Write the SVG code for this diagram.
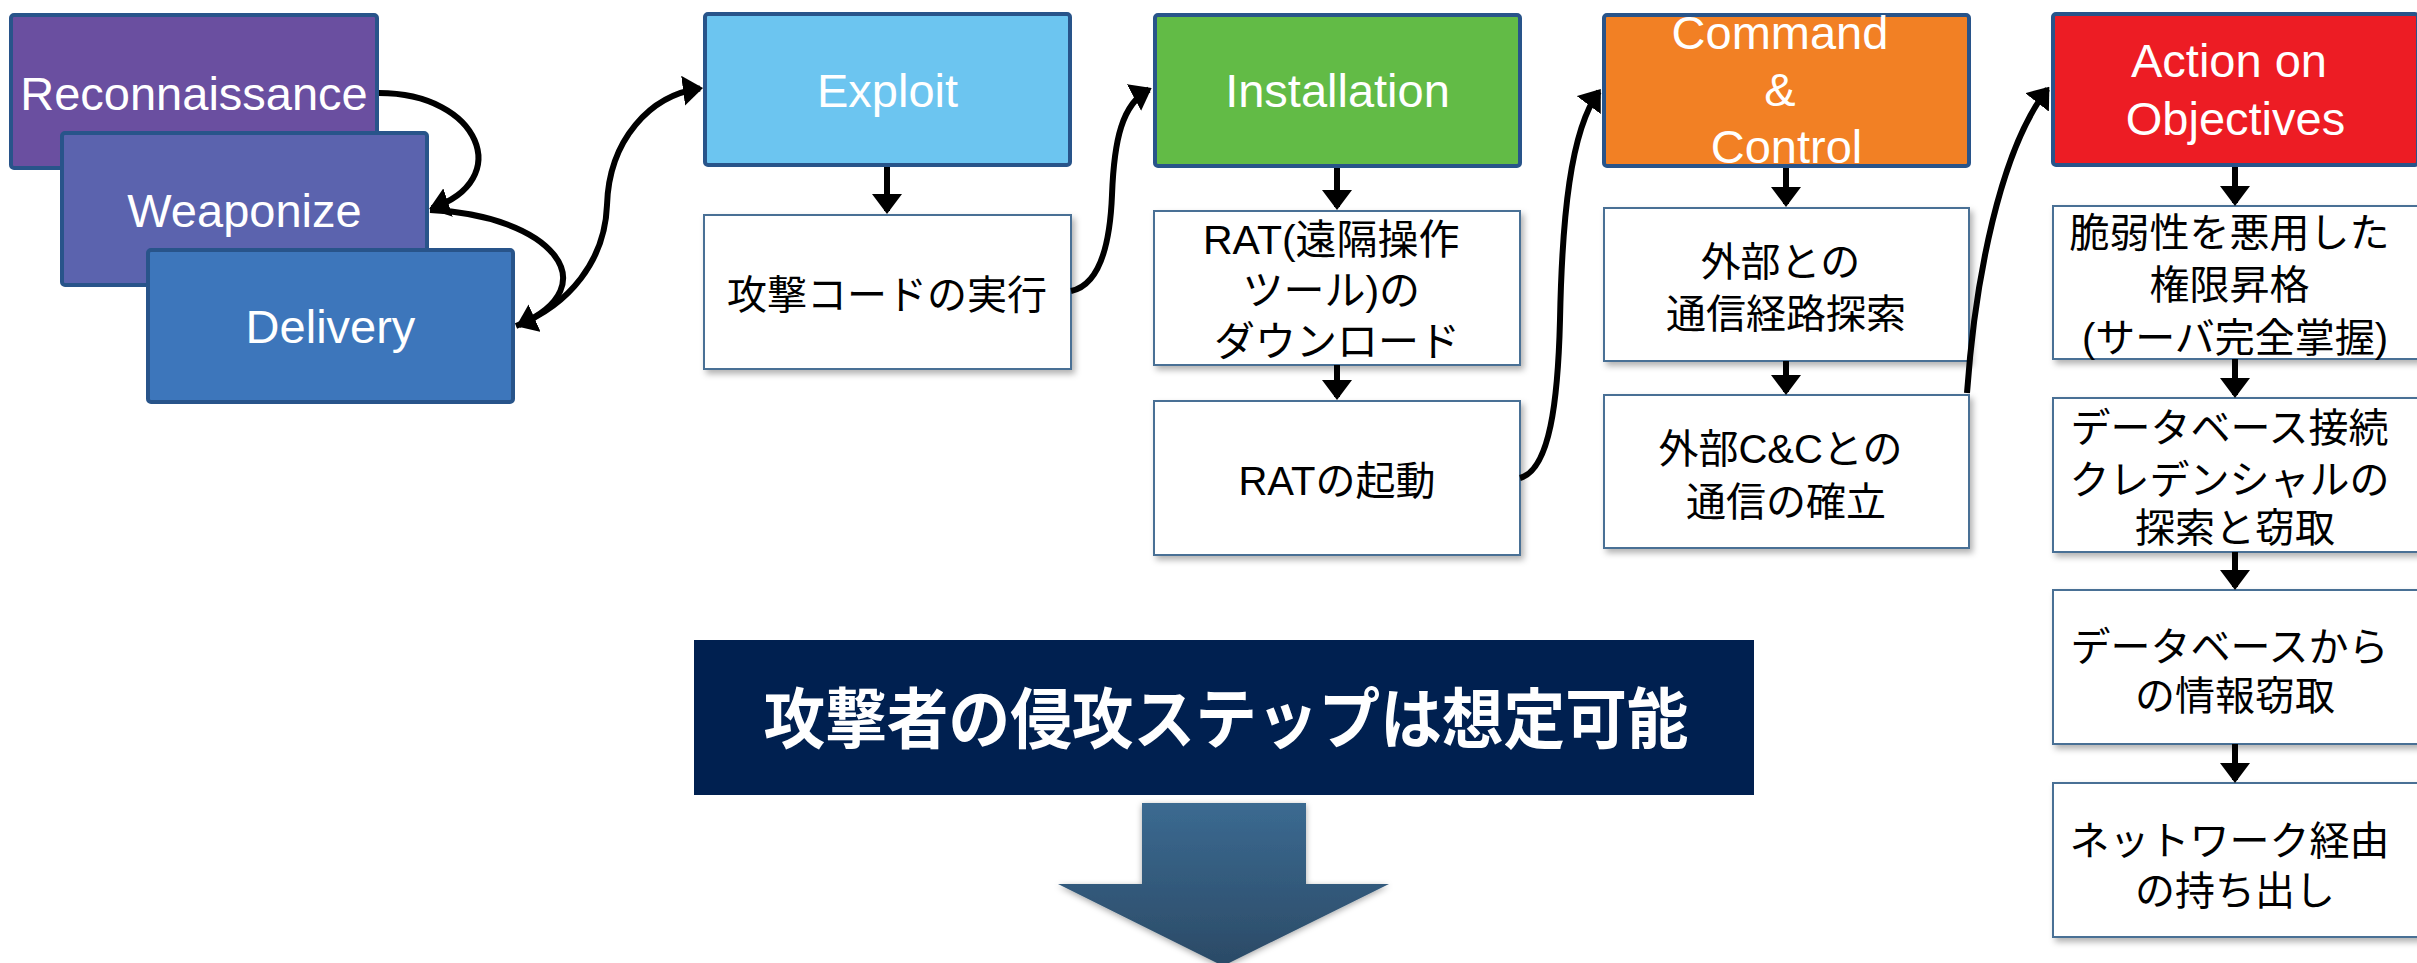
<svg xmlns="http://www.w3.org/2000/svg" width="2417" height="963" viewBox="0 0 2417 963">
  <defs>
    <style>
      .stage { stroke: #28548A; stroke-width: 4; }
      .stage-label { font-family: "Liberation Sans", Arial, sans-serif; font-size: 47px; fill: #FFFFFF; text-anchor: middle; }
      .step { fill: #FFFFFF; stroke: #4A6F95; stroke-width: 2; filter: url(#boxShadow); }
      .step-label { font-family: "Liberation Sans", "Noto Sans CJK JP", sans-serif; font-size: 40px; fill: #000000; text-anchor: middle; }
      .link { fill: none; stroke: #000000; stroke-width: 6; marker-end: url(#head); }
      .banner-label { font-family: "Noto Sans CJK JP", sans-serif; font-weight: bold; font-size: 66px; fill: #FFFFFF; text-anchor: middle; }
    </style>
    <marker id="head" markerUnits="userSpaceOnUse" markerWidth="20" markerHeight="30" refX="17" refY="15" orient="auto">
      <path d="M0,0 L20,15 L0,30 z" fill="#000000"/>
    </marker>
    <filter id="boxShadow" x="-10%" y="-10%" width="125%" height="125%">
      <feDropShadow dx="3" dy="4" stdDeviation="3" flood-color="#000000" flood-opacity="0.3"/>
    </filter>
    <filter id="arrowShadow" x="-10%" y="-10%" width="120%" height="120%">
      <feDropShadow dx="0" dy="2" stdDeviation="3" flood-color="#000000" flood-opacity="0.35"/>
    </filter>
    <linearGradient id="bigArrowFill" x1="0" y1="0" x2="0" y2="1">
      <stop offset="0" stop-color="#3B6A91"/>
      <stop offset="1" stop-color="#2B4A66"/>
    </linearGradient>
  </defs>

  <rect width="2417" height="963" fill="#FFFFFF"/>

  <!-- early stages, stacked -->
  <g id="reconnaissance">
    <rect class="stage" x="11" y="15" width="366" height="153" rx="3" fill="#6A4FA0"/>
    <text class="stage-label" x="194" y="110">Reconnaissance</text>
  </g>
  <g id="weaponize">
    <rect class="stage" x="62" y="133" width="365" height="152" rx="3" fill="#5B63AE"/>
    <text class="stage-label" x="244.5" y="227">Weaponize</text>
  </g>
  <g id="delivery">
    <rect class="stage" x="148" y="250" width="365" height="152" rx="3" fill="#3D76BB"/>
    <text class="stage-label" x="330.5" y="343">Delivery</text>
  </g>

  <!-- Exploit column -->
  <g id="exploit">
    <rect class="stage" x="705" y="14" width="365" height="151" rx="3" fill="#6CC5F0"/>
    <text class="stage-label" x="887.5" y="107">Exploit</text>
  </g>
  <g id="exploit-step1">
    <rect class="step" x="704" y="215" width="367" height="154"/>
    <text class="step-label" x="887" y="309">攻撃コードの実行</text>
  </g>

  <!-- Installation column -->
  <g id="installation">
    <rect class="stage" x="1155" y="15" width="365" height="151" rx="3" fill="#62BB46"/>
    <text class="stage-label" x="1337.5" y="107">Installation</text>
  </g>
  <g id="installation-step1">
    <rect class="step" x="1154" y="211" width="366" height="154"/>
    <text class="step-label" style="font-size:41px">
      <tspan x="1337" y="254">RAT(遠隔操作</tspan>
      <tspan x="1337" y="305">ツール)の</tspan>
      <tspan x="1337" y="356">ダウンロード</tspan>
    </text>
  </g>
  <g id="installation-step2">
    <rect class="step" x="1154" y="401" width="366" height="154"/>
    <text class="step-label" x="1337" y="495">RATの起動</text>
  </g>

  <!-- Command & Control column -->
  <g id="command-control">
    <rect class="stage" x="1604" y="15" width="365" height="151" rx="3" fill="#F28024"/>
    <text class="stage-label">
      <tspan x="1786.5" y="49">Command</tspan>
      <tspan x="1786.5" y="106">&amp;</tspan>
      <tspan x="1786.5" y="163">Control</tspan>
    </text>
  </g>
  <g id="cc-step1">
    <rect class="step" x="1604" y="208" width="365" height="153"/>
    <text class="step-label">
      <tspan x="1786" y="276">外部との</tspan>
      <tspan x="1786" y="328">通信経路探索</tspan>
    </text>
  </g>
  <g id="cc-step2">
    <rect class="step" x="1604" y="395" width="365" height="153"/>
    <text class="step-label">
      <tspan x="1786" y="463">外部C&amp;Cとの</tspan>
      <tspan x="1786" y="516">通信の確立</tspan>
    </text>
  </g>

  <!-- Action on Objectives column -->
  <g id="action-on-objectives">
    <rect class="stage" x="2053" y="14" width="365" height="151" rx="3" fill="#ED1C24"/>
    <text class="stage-label">
      <tspan x="2235.5" y="77">Action on</tspan>
      <tspan x="2235.5" y="135">Objectives</tspan>
    </text>
  </g>
  <g id="action-step1">
    <rect class="step" x="2053" y="206" width="366" height="153"/>
    <text class="step-label">
      <tspan x="2235" y="247">脆弱性を悪用した</tspan>
      <tspan x="2235" y="299">権限昇格</tspan>
      <tspan x="2235" y="352">(サーバ完全掌握)</tspan>
    </text>
  </g>
  <g id="action-step2">
    <rect class="step" x="2053" y="398" width="366" height="154"/>
    <text class="step-label">
      <tspan x="2235" y="442">データベース接続</tspan>
      <tspan x="2235" y="494">クレデンシャルの</tspan>
      <tspan x="2235" y="542">探索と窃取</tspan>
    </text>
  </g>
  <g id="action-step3">
    <rect class="step" x="2053" y="590" width="366" height="154"/>
    <text class="step-label">
      <tspan x="2235" y="661">データベースから</tspan>
      <tspan x="2235" y="710">の情報窃取</tspan>
    </text>
  </g>
  <g id="action-step4">
    <rect class="step" x="2053" y="783" width="366" height="154"/>
    <text class="step-label">
      <tspan x="2235" y="855">ネットワーク経由</tspan>
      <tspan x="2235" y="905">の持ち出し</tspan>
    </text>
  </g>

  <!-- summary banner and down arrow -->
  <g id="summary-banner">
    <rect x="694" y="640" width="1060" height="155" fill="#002050"/>
    <text class="banner-label" x="1226" y="743" textLength="925" lengthAdjust="spacingAndGlyphs">攻撃者の侵攻ステップは想定可能</text>
  </g>
  <g id="down-arrow">
    <polygon points="1142,803 1306,803 1306,884 1389,884 1223,966 1058,884 1142,884" fill="url(#bigArrowFill)" filter="url(#arrowShadow)"/>
  </g>

  <!-- connectors -->
  <g id="connectors">
    <path class="link" d="M379,93 C480,93 515,180 432,208"/>
    <path class="link" d="M430,210 C550,215 610,285 519,325"/>
    <path class="link" d="M516,326 C570,305 605,260 607,205 C609,140 650,95 700,88.5"/>
    <path class="link" d="M1071,291 C1100,285 1110,245 1112,195 C1114,140 1122,104 1149,89.5"/>
    <path class="link" d="M1520,478 C1550,470 1558,400 1560,320 C1562,220 1570,130 1599,91.5"/>
    <path class="link" d="M1967,393 C1975,280 2000,150 2047.5,89"/>
    <path class="link" d="M887,167 V211"/>
    <path class="link" d="M1337,168 V207"/>
    <path class="link" d="M1337,365 V397"/>
    <path class="link" d="M1786,168 V204"/>
    <path class="link" d="M1786,361 V392"/>
    <path class="link" d="M2235,167 V203"/>
    <path class="link" d="M2235,359 V395"/>
    <path class="link" d="M2235,552 V587"/>
    <path class="link" d="M2235,744 V780"/>
  </g>
</svg>
